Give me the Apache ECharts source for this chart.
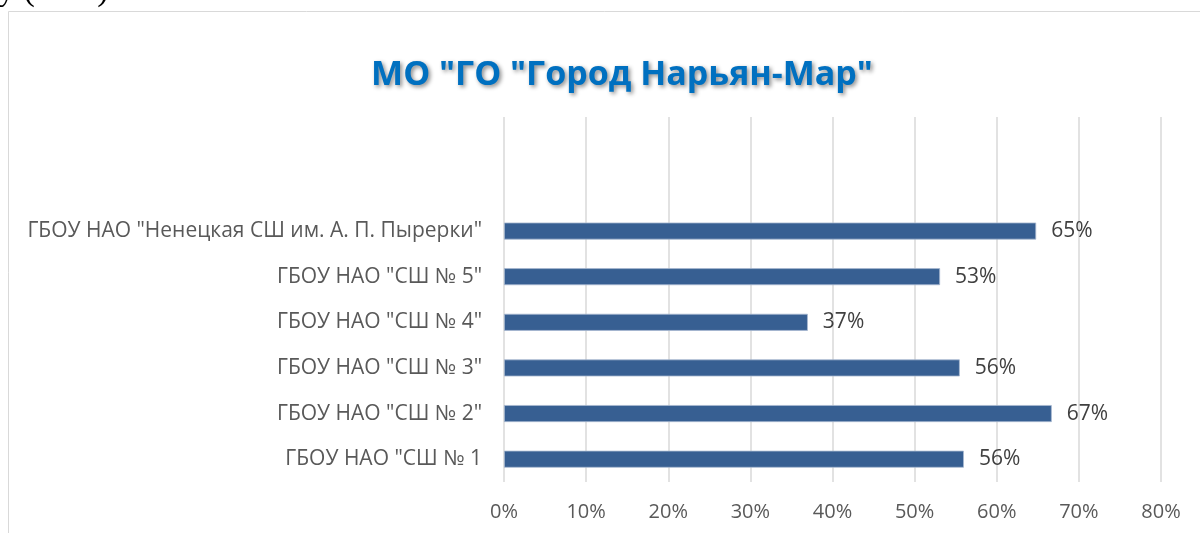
<!DOCTYPE html>
<html>
<head>
<meta charset="utf-8">
<script src="https://cdn.jsdelivr.net/npm/echarts@6.0.0/dist/echarts.min.js"></script>
<style>
  html, body { margin: 0; padding: 0; background: #fff; }
  #chart { width: 1200px; height: 533px; }
</style>
</head>
<body>
<div id="chart"></div>
<script>
// categories from bottom to top; the two top slots are empty in the source chart
const schools = [
  'ГБОУ НАО "СШ № 1',
  'ГБОУ НАО "СШ № 2"',
  'ГБОУ НАО "СШ № 3"',
  'ГБОУ НАО "СШ № 4"',
  'ГБОУ НАО "СШ № 5"',
  'ГБОУ НАО "Ненецкая СШ им. А. П. Пырерки"',
  '',
  '',
];
const shares = [0.56, 0.667, 0.555, 0.37, 0.531, 0.648, null, null];
const tickValues = [0, 0.1, 0.2, 0.3, 0.4, 0.5, 0.6, 0.7, 0.8];

const titleText = 'МО "ГО "Город Нарьян-Мар"';
const labelFont = '"Open Sans", "Noto Sans", sans-serif';

function formatPercent(value) {
  return `${Math.round(value * 100)}%`;
}

const chart = echarts.init(document.getElementById("chart"));

chart.setOption({
  animation: false,
  backgroundColor: "#fff",
  title: {
    text: titleText,
    left: 617,
    textAlign: "center",
    top: 53,
    textStyle: {
      color: "#0070C0",
      fontFamily: labelFont,
      fontWeight: "bold",
      fontSize: 34,
      textShadowColor: "rgba(0,0,0,0.45)",
      textShadowBlur: 4,
      textShadowOffsetX: 2,
      textShadowOffsetY: 2,
    },
  },
  graphic: [
    {
      type: "rect",
      shape: { x: 8.5, y: 11.5, width: 1300, height: 600 },
      style: { fill: "none", stroke: "#d9d9d9", lineWidth: 1 },
      silent: true,
    },
    {
      type: "text",
      x: -2,
      y: 8,
      style: {
        text: "у (53%).",
        font: "34px 'Liberation Serif', serif",
        fill: "#000",
        textVerticalAlign: "bottom",
      },
      silent: true,
    },
  ],
  grid: { left: 504, right: 39, top: 117, bottom: 51, containLabel: false },
  xAxis: {
    type: "value",
    min: tickValues[0],
    max: tickValues[tickValues.length - 1],
    interval: 0.1,
    axisLine: { show: false },
    axisTick: { show: false },
    axisLabel: {
      formatter: formatPercent,
      color: "#595959",
      fontFamily: labelFont,
      fontSize: 20,
      margin: 20,
    },
    splitLine: { show: true, lineStyle: { color: "#d9d9d9", width: 1.5 } },
  },
  yAxis: {
    type: "category",
    data: schools,
    axisLine: { show: false },
    axisTick: { show: false },
    axisLabel: {
      color: "#595959",
      fontFamily: labelFont,
      fontSize: 21,
      margin: 22,
    },
    splitLine: { show: false },
  },
  series: [
    {
      type: "bar",
      data: shares,
      barWidth: 17,
      itemStyle: { color: "#375F92", borderColor: "#a8b9d1", borderWidth: 0.8 },
      label: {
        show: true,
        position: "right",
        distance: 15,
        formatter: (p) => formatPercent(p.value),
        color: "#404040",
        fontFamily: labelFont,
        fontSize: 21,
      },
    },
  ],
});
</script>
</body>
</html>
